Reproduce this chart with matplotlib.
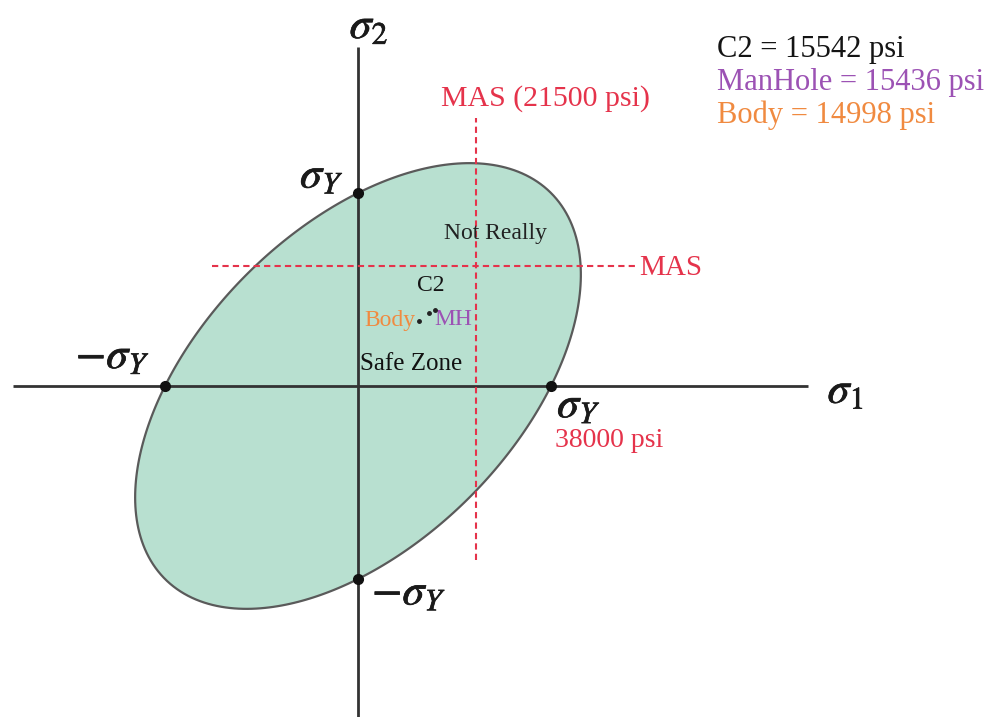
import numpy as np
import matplotlib.pyplot as plt
import matplotlib.patheffects as pe

plt.rcParams['font.family'] = 'Liberation Serif'
plt.rcParams['mathtext.fontset'] = 'stix'

# yield strength and allowable
sigma_y_psi = 38000
mas_psi = 21500

# stress results (psi)
result_names = ['C2', 'ManHole', 'Body']
result_values = [15542, 15436, 14998]
result_colors = ['#141414', '#9c52b4', '#f08a40']

# plotted stress states, in units of sigma_Y
point_labels = ['C2', 'MH', 'Body']
point_s1 = [0.399, 0.368, 0.316]
point_s2 = [0.394, 0.378, 0.337]

# where the MAS lines sit, in units of sigma_Y
mas_s1 = 0.611
mas_s2 = 0.622

RED = '#e5334b'
AXIS = '#333333'

fig = plt.figure(figsize=(10.01, 7.17), dpi=100)
ax = fig.add_axes([0, 0, 1, 1])
px = 193.0
ax.set_xlim(-358 / px, 643 / px)
ax.set_ylim(-331 / px, 386 / px)
ax.axis('off')

# von Mises yield locus: s1^2 - s1*s2 + s2^2 = 1
t = np.linspace(0, 2 * np.pi, 400)
r = 1 / np.sqrt(1 - np.cos(t) * np.sin(t))
ax.fill(r * np.cos(t), r * np.sin(t), facecolor='#b8e0d0',
        edgecolor='#5a5a5a', lw=1.6, zorder=1)

# axes
ax.plot([-1.79, 2.33], [0, 0], color=AXIS, lw=2, zorder=2, solid_capstyle='butt')
ax.plot([0, 0], [-1.72, 1.755], color=AXIS, lw=2, zorder=2, solid_capstyle='butt')
ax.plot([1, -1, 0, 0], [0, 0, 1, -1], 'o', color='#111111', ms=7, zorder=3)

# MAS lines
ax.plot([mas_s1, mas_s1], [-0.9, 1.39], color=RED, lw=1.5, ls=(0, (3, 2)), zorder=2)
ax.plot([-0.755, 1.44], [mas_s2, mas_s2], color=RED, lw=1.5, ls=(0, (3, 2)), zorder=2)

# axis labels (slightly emboldened like the textbook glyphs)
fs = 32
bold = [pe.withStroke(linewidth=0.5, foreground='#1a1a1a')]
sym = dict(fontsize=fs, ha='center', va='center', color='#1a1a1a', path_effects=bold)
ax.text(0.057, 1.86, r'$\sigma_2$', **sym)
ax.text(2.527, -0.03, r'$\sigma_1$', **sym)
ax.text(-0.187, 1.085, r'$\sigma_Y$', **sym)
ax.text(1.145, -0.105, r'$\sigma_Y$', **sym)
ax.text(-1.27, 0.15, r'$-\sigma_Y$', **sym)
ax.text(0.265, -1.075, r'$-\sigma_Y$', **sym)

ax.text(1.3, -0.28, '%d psi' % sigma_y_psi, fontsize=20, color=RED,
        ha='center', va='center')
ax.text(0.969, 1.49, 'MAS (%d psi)' % mas_psi, fontsize=21.5, color=RED,
        ha='center', va='center')
ax.text(1.455, mas_s2 - 0.01, 'MAS', fontsize=21, color=RED, ha='left', va='center')

ax.text(0.71, 0.79, 'Not Really', fontsize=17, color='#222222', ha='center', va='center')
ax.text(0.01, 0.115, 'Safe Zone', fontsize=18, color='#111111', ha='left', va='center')

# stress points
ax.plot(point_s1, point_s2, 'o', color='#222222', ms=2.5, zorder=4)
ax.text(point_s1[0] - 0.02, point_s2[0] + 0.07, point_labels[0], fontsize=17,
        color=result_colors[0], ha='center', va='bottom')
ax.text(point_s1[1] + 0.03, point_s2[1] - 0.035, point_labels[1], fontsize=17,
        color=result_colors[1], ha='left', va='center')
ax.text(point_s1[2] - 0.02, point_s2[2], point_labels[2], fontsize=17,
        color=result_colors[2], ha='right', va='center')

# results block
for i, (name, val, col) in enumerate(zip(result_names, result_values, result_colors)):
    ax.text(1.86, 1.745 - i * 0.172, '%s = %d psi' % (name, val), fontsize=22,
            color=col, ha='left', va='center')

fig.savefig('out.png')
